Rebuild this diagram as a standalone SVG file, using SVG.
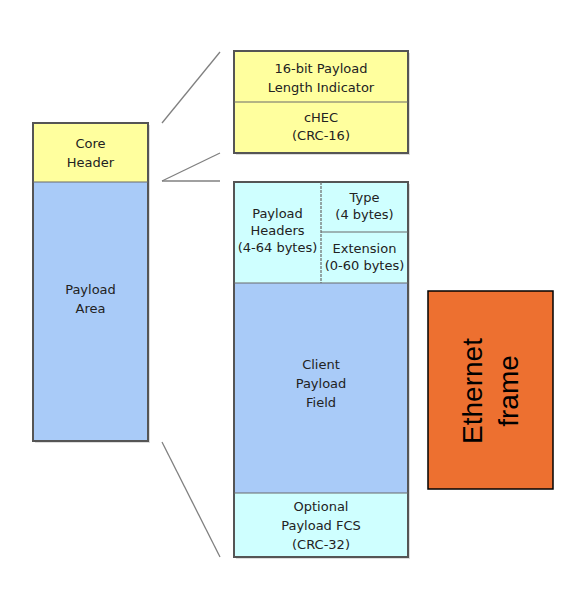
<svg xmlns="http://www.w3.org/2000/svg" width="576" height="590" viewBox="0 0 576 590">
<style>
.box{stroke:#555;stroke-width:2}
.div{stroke:#6a6a6a;stroke-width:1.2;fill:none}
.sh{fill:#ddd}
.y{fill:#FFFF9E}
.b{fill:#A9CBF8}
.c{fill:#CFFFFF}
.t{font-family:"DejaVu Sans",Verdana,sans-serif;font-size:13px;fill:#222;text-anchor:middle}
.ln{stroke:#808080;stroke-width:1.3;fill:none}
.eth{font-family:"Liberation Sans",Arial,sans-serif;font-size:28px;fill:#000;text-anchor:middle}
</style>
<rect width="576" height="590" fill="#fff"/>
<g id="connectors">
<line class="ln" x1="162" y1="123" x2="220" y2="52"/>
<line class="ln" x1="162" y1="181" x2="220" y2="153"/>
<line class="ln" x1="162" y1="181" x2="220" y2="181"/>
<line class="ln" x1="162" y1="442" x2="220" y2="557"/>
</g>
<g id="core-block">
<rect class="sh" x="35" y="125" width="115" height="318"/>
<rect class="y" x="33" y="123" width="115" height="59"/>
<rect class="b" x="33" y="182" width="115" height="259"/>
<rect class="box" x="33" y="123" width="115" height="318" fill="none"/>
<line class="div" x1="33" y1="182" x2="148" y2="182"/>
<text class="t" x="90.5" y="148">Core</text>
<text class="t" x="90.5" y="167">Header</text>
<text class="t" x="90.5" y="294">Payload</text>
<text class="t" x="90.5" y="313">Area</text>
</g>
<g id="core-header-detail">
<rect class="sh" x="236" y="53" width="174" height="102"/>
<rect class="y" x="234" y="51" width="174" height="102"/>
<rect class="box" x="234" y="51" width="174" height="102" fill="none"/>
<line class="div" x1="234" y1="102" x2="408" y2="102"/>
<text class="t" x="321" y="73">16-bit Payload</text>
<text class="t" x="321" y="92">Length Indicator</text>
<text class="t" x="321" y="122">cHEC</text>
<text class="t" x="321" y="140">(CRC-16)</text>
</g>
<g id="payload-detail">
<rect class="sh" x="236" y="184" width="174" height="375"/>
<rect class="c" x="234" y="182" width="174" height="101"/>
<rect class="b" x="234" y="283" width="174" height="210"/>
<rect class="c" x="234" y="493" width="174" height="64"/>
<rect class="box" x="234" y="182" width="174" height="375" fill="none"/>
<line class="div" x1="321" y1="182" x2="321" y2="283" stroke-dasharray="3,1"/>
<line class="div" x1="321" y1="232" x2="408" y2="232"/>
<line class="div" x1="234" y1="283" x2="408" y2="283"/>
<line class="div" x1="234" y1="493" x2="408" y2="493"/>
<text class="t" x="277.5" y="218">Payload</text>
<text class="t" x="277.5" y="235">Headers</text>
<text class="t" x="277.5" y="252">(4-64 bytes)</text>
<text class="t" x="364.5" y="202">Type</text>
<text class="t" x="364.5" y="219">(4 bytes)</text>
<text class="t" x="364.5" y="253">Extension</text>
<text class="t" x="364.5" y="270">(0-60 bytes)</text>
<text class="t" x="321" y="369">Client</text>
<text class="t" x="321" y="388">Payload</text>
<text class="t" x="321" y="407">Field</text>
<text class="t" x="321" y="511">Optional</text>
<text class="t" x="321" y="530">Payload FCS</text>
<text class="t" x="321" y="549">(CRC-32)</text>
</g>
<g id="ethernet-frame">
<rect x="428" y="291" width="125" height="198" fill="#ED7030" stroke="#000" stroke-width="1.5"/>
<text class="eth" transform="translate(482,391) rotate(-90)">Ethernet</text>
<text class="eth" transform="translate(518,391) rotate(-90)">frame</text>
</g>
</svg>
